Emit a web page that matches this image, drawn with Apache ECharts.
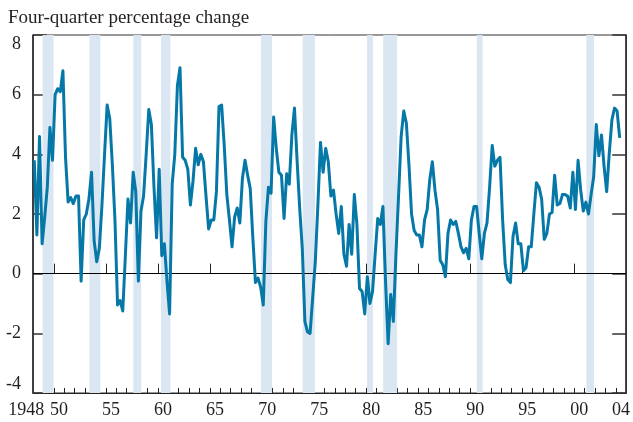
<!DOCTYPE html>
<html>
<head>
<meta charset="utf-8">
<script src="https://cdn.jsdelivr.net/npm/echarts@6/dist/echarts.min.js"></script>
<style>
html,body{margin:0;padding:0;background:#fff;}
#chart{width:633px;height:422px;}
</style>
</head>
<body>
<div id="chart"></div>
<script>
// Quarterly four-quarter percentage change, starting 1948Q1
const startYear = 1948;
const v1948_1957 = [3.8,1.3,4.6,1.0, 1.9,2.9,4.9,3.8, 6.0,6.2,6.1,6.8, 3.9,2.4,2.55,2.35, 2.6,2.6,-0.25,1.8,
  2.0,2.5,3.4,1.1, 0.4,0.85,2.3,4.0, 5.65,5.2,3.65,1.8, -1.05,-0.9,-1.25,0.6, 2.5,1.7,3.4,2.75];
const v1958_1967 = [-0.25,2.1,2.6,4.0, 5.5,5.0,2.9,1.2, 3.5,0.6,1.0,-0.25, -1.35,3.0,4.0,6.3, 6.9,3.9,3.8,3.5,
  2.3,3.1,4.2,3.65, 4.0,3.75,2.6,1.5, 1.8,1.8,2.75,5.6, 5.65,4.3,2.65,1.8, 0.9,1.9,2.2,1.7];
const v1968_1977 = [3.2,3.8,3.3,2.85, 1.2,-0.3,-0.15,-0.45, -1.05,1.75,2.9,2.7, 5.25,4.2,3.4,3.3, 1.85,3.35,3.0,4.65,
  5.55,3.8,2.2,0.85, -1.6,-1.95,-2.0,-0.8, 0.4,2.3,4.4,3.4, 4.2,3.75,2.6,2.8, 2.0,1.35,2.25,0.65];
const v1978_1987 = [0.25,1.65,0.65,2.65, 1.65,-0.5,-0.6,-1.35, -0.1,-1.0,-0.6,0.65, 1.85,1.65,2.25,-0.25, -2.35,-0.7,-1.6,0.65,
  2.6,4.6,5.45,5.05, 3.65,2.0,1.45,1.3, 1.3,0.9,1.8,2.15, 3.15,3.75,2.8,2.15, 0.45,0.3,-0.1,1.35];
const v1988_1997 = [1.8,1.65,1.75,1.35, 0.9,0.7,0.85,0.5, 1.8,2.25,2.25,1.35, 0.5,1.35,1.7,2.9, 4.3,3.6,3.8,3.9,
  1.8,0.3,-0.2,-0.3, 1.25,1.7,1.0,1.0, 0.1,0.2,0.9,0.9, 2.0,3.05,2.9,2.5, 1.15,1.35,2.0,2.05];
const v1998_2004 = [3.3,2.3,2.35,2.65, 2.65,2.6,2.2,3.4, 2.15,3.8,2.8,2.1, 2.4,2.0,2.65,3.25, 5.0,3.95,4.65,3.6,
  2.75,4.05,5.15,5.55, 5.45,4.55];

// Recession periods (start, end) in fractional years
const recessionStarts = [1948.92,1953.42,1957.64,1960.30,1969.90,1973.92,1980.10,1981.65,1990.65,2001.17];
const recessionEnds   = [1949.97,1954.47,1958.40,1961.20,1970.97,1975.10,1980.66,1982.99,1991.20,2001.90];

// Axis labels
const labelYears = [1948,1950,1955,1960,1965,1970,1975,1980,1985,1990,1995,2000,2004];
const labelTexts = ['1948','50','55','60','65','70','75','80','85','90','95','00','04'];
const xMin = 1948, xMax = 2005;

const values = [].concat(v1948_1957, v1958_1967, v1968_1977, v1978_1987, v1988_1997, v1998_2004);
const data = values.map((v, i) => [startYear + (i + 0.5) / 4, v]);

const minorTicks = [];
for (let y = xMin + 1; y < xMax; y++) minorTicks.push(y);
const majorTicks = minorTicks.filter(y => y % 5 === 0);
const labelPos = labelYears.map(y => y + 0.5);

const font = 'Liberation Serif';
const txt = '#231f20';
const chart = echarts.init(document.getElementById('chart'), null, {renderer: 'canvas'});
chart.setOption({
  animation: false,
  title: {
    text: 'Four-quarter percentage change', left: 3, top: 4,
    textStyle: {fontFamily: font, fontSize: 19, fontWeight: 'normal', color: txt}
  },
  grid: {left: 33, right: 5, top: 35, bottom: 29, show: true, borderColor: '#333', borderWidth: 1, backgroundColor: 'transparent'},
  xAxis: [{
    type: 'value', min: xMin, max: xMax,
    axisLine: {show: true, onZero: false, lineStyle: {color: '#222', width: 1}},
    splitLine: {show: false},
    axisTick: {show: true, inside: true, length: 5, customValues: minorTicks, lineStyle: {color: '#222', width: 1}},
    axisLabel: {
      show: true, margin: 8, customValues: labelPos, color: txt, fontFamily: font, fontSize: 18,
      formatter: function (v) {
        const idx = labelPos.findIndex(p => Math.abs(p - v) < 1e-6);
        if (idx < 0) return '';
        if (idx === 0) return '{first|' + labelTexts[idx] + '}';
        return labelTexts[idx];
      },
      rich: {first: {fontFamily: font, fontSize: 18, color: txt, padding: [0, 24, 0, 0]}}
    }
  }, {
    type: 'value', min: xMin, max: xMax, position: 'bottom',
    axisLine: {show: false}, splitLine: {show: false},
    axisTick: {show: true, inside: true, length: 10, customValues: majorTicks, lineStyle: {color: '#222', width: 1}},
    axisLabel: {show: false}
  }],
  yAxis: [{
    type: 'value', min: -4, max: 8, interval: 2,
    axisLine: {show: true, lineStyle: {color: '#222', width: 1.5}},
    splitLine: {show: false},
    axisTick: {show: true, inside: true, length: 14, lineStyle: {color: '#333', width: 1.5}},
    axisLabel: {
      margin: 12, color: txt, fontFamily: font, fontSize: 18,
      verticalAlignMaxLabel: 'top', verticalAlignMinLabel: 'bottom'
    }
  }, {
    type: 'value', min: -4, max: 8, interval: 2, position: 'right',
    axisLine: {show: true, lineStyle: {color: '#222', width: 1.5}},
    splitLine: {show: false},
    axisTick: {show: true, inside: true, length: 14, lineStyle: {color: '#333', width: 1.5}},
    axisLabel: {show: false}
  }],
  series: [{
    type: 'line', data: data, showSymbol: false, symbol: 'none',
    lineStyle: {color: '#0578a8', width: 3, join: 'round'},
    z: 5,
    markArea: {
      silent: true,
      itemStyle: {color: '#dae6f1'},
      data: recessionStarts.map((s, i) => [{xAxis: s}, {xAxis: recessionEnds[i]}])
    },
    markLine: {
      silent: true, symbol: 'none', label: {show: false},
      lineStyle: {color: '#000', width: 1, type: 'solid'},
      data: [{yAxis: 0}]
    }
  }]
});
</script>
</body>
</html>
